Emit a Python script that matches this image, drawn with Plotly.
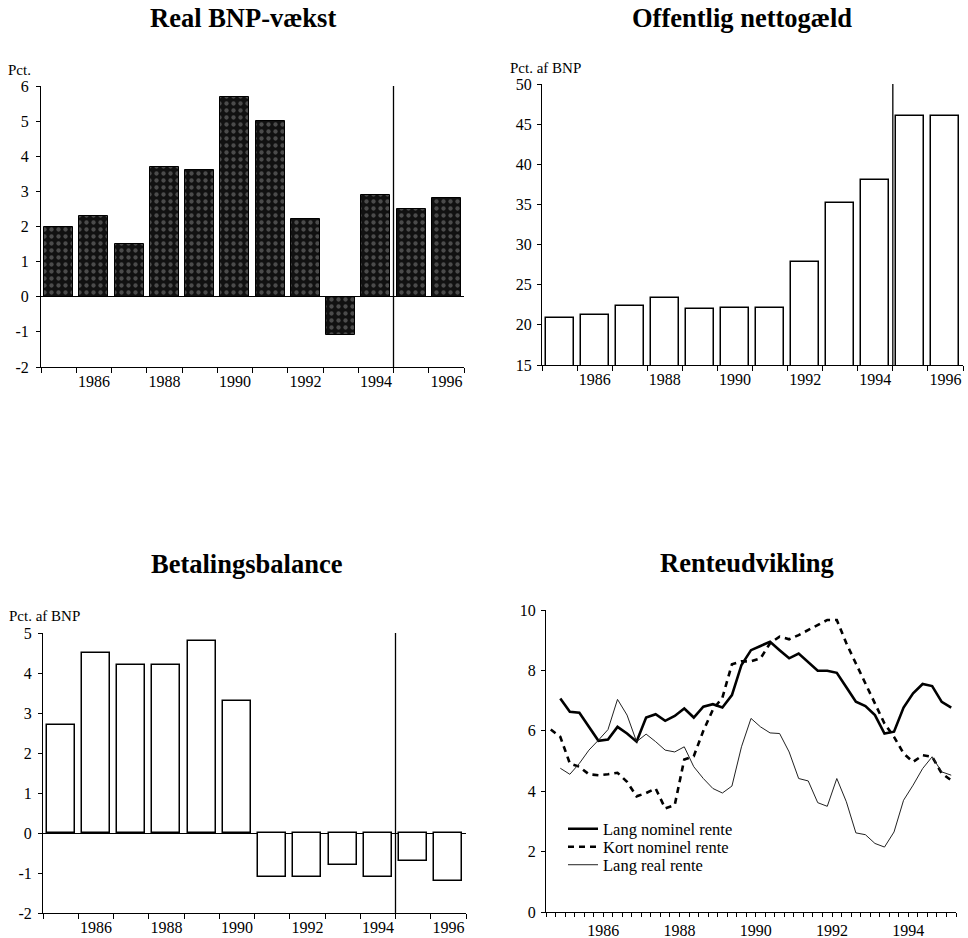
import plotly.graph_objects as go

# ---------------- data ----------------
years = [1985, 1986, 1987, 1988, 1989, 1990, 1991, 1992, 1993, 1994, 1995, 1996]
bnp_growth = [2.0, 2.3, 1.5, 3.7, 3.6, 5.7, 5.0, 2.2, -1.1, 2.9, 2.5, 2.8]
net_debt = [20.8, 21.2, 22.4, 23.4, 22.0, 22.1, 22.1, 27.8, 35.2, 38.0, 46.0, 46.0]
current_account = [2.7, 4.5, 4.2, 4.2, 4.8, 3.3, -1.1, -1.1, -0.8, -1.1, -0.7, -1.2]
bar_label_years = [1986, 1988, 1990, 1992, 1994, 1996]
forecast_split = 1994.5

kort_start = (1985, 1)
kort_rente = [6.04, 5.80, 4.92, 4.81, 4.56, 4.53, 4.56, 4.61, 4.31, 3.83, 3.94, 4.09,
              3.43, 3.54, 5.05, 5.16, 6.0, 6.7, 7.1, 8.2, 8.3, 8.3, 8.4, 8.9,
              9.12, 9.03, 9.17, 9.34, 9.50, 9.67, 9.67, 8.90, 8.23, 7.57, 6.91, 6.24,
              5.80, 5.25, 4.97, 5.19, 5.14, 4.59, 4.36]
lang_start = (1985, 2)
lang_rente = [7.07, 6.63, 6.60, 6.13, 5.67, 5.71, 6.13, 5.91, 5.64, 6.44, 6.55, 6.33,
              6.49, 6.74, 6.44, 6.80, 6.88, 6.77, 7.18, 8.18, 8.67, 8.81, 8.95, 8.67,
              8.40, 8.56, 8.29, 7.99, 7.99, 7.92, 7.44, 6.96, 6.82, 6.52, 5.91, 5.97,
              6.77, 7.24, 7.55, 7.48, 6.96, 6.77]
real_start = (1985, 2)
real_rente = [4.76, 4.56, 4.92, 5.36, 5.69, 6.04, 7.04, 6.52, 5.64, 5.89, 5.64, 5.36,
              5.30, 5.47, 4.81, 4.42, 4.09, 3.94, 4.17, 5.47, 6.41, 6.13, 5.93, 5.91,
              5.30, 4.42, 4.34, 3.62, 3.50, 4.42, 3.65, 2.62, 2.56, 2.27, 2.15, 2.65,
              3.70, 4.20, 4.75, 5.14, 4.64, 4.53]
rate_label_years = [1986, 1988, 1990, 1992, 1994]


def quarter_positions(start, n):
    y, q = start
    out = []
    for _ in range(n):
        out.append(y + (q - 0.5) / 4.0)
        q += 1
        if q > 4:
            q = 1
            y += 1
    return out


W, H = 968, 938
FONT = "Liberation Serif"


def px_x(a, b):
    return [a / W, b / W]


def px_y(top, bottom):
    return [1 - bottom / H, 1 - top / H]


fig = go.Figure()

fig.add_trace(go.Bar(
    x=years, y=bnp_growth, width=0.82, xaxis="x", yaxis="y",
    marker=dict(color="#111111", line=dict(color="black", width=1),
                pattern=dict(shape=".", fgcolor="#858585", bgcolor="#111111",
                             size=7, solidity=0.3)),
    showlegend=False))

fig.add_trace(go.Bar(
    x=years, y=net_debt, width=0.8, xaxis="x2", yaxis="y2",
    marker=dict(color="white", line=dict(color="black", width=1.5)),
    showlegend=False))

fig.add_trace(go.Bar(
    x=years, y=current_account, width=0.8, xaxis="x3", yaxis="y3",
    marker=dict(color="white", line=dict(color="black", width=1.5)),
    showlegend=False))

fig.add_trace(go.Scatter(
    x=quarter_positions(lang_start, len(lang_rente)), y=lang_rente,
    mode="lines", name="Lang nominel rente", xaxis="x4", yaxis="y4",
    legend="legend", line=dict(color="black", width=2.6)))
fig.add_trace(go.Scatter(
    x=quarter_positions(kort_start, len(kort_rente)), y=kort_rente,
    mode="lines", name="Kort nominel rente", xaxis="x4", yaxis="y4",
    legend="legend2", line=dict(color="black", width=2.6, dash="6px,5px")))
fig.add_trace(go.Scatter(
    x=quarter_positions(real_start, len(real_rente)), y=real_rente,
    mode="lines", name="Lang real rente", xaxis="x4", yaxis="y4",
    legend="legend3", line=dict(color="#222222", width=1)))

tickfont = dict(family=FONT, size=16, color="black")


def num_text(v):
    return ("-%g" % -v) if v < 0 else ("%g" % v)


def bar_xaxis(domain, anchor):
    return dict(domain=domain, anchor=anchor, range=[1984.5, 1996.5],
                tickmode="array", tickvals=bar_label_years,
                ticktext=[str(v) for v in bar_label_years],
                ticks="outside", ticklen=0, tickfont=tickfont, automargin=False,
                showline=True, linecolor="black", linewidth=1,
                showgrid=False, zeroline=False, fixedrange=True,
                minor=dict(tick0=1984.5, dtick=1, ticks="outside", ticklen=5,
                           tickcolor="black", tickwidth=1, showgrid=False))


def yaxis(domain, anchor, lo, hi, step, zeroline, standoff):
    vals = list(range(lo, hi + 1, step))
    return dict(domain=domain, anchor=anchor, range=[lo, hi], automargin=False,
                tickmode="array", tickvals=vals, ticktext=[num_text(v) for v in vals],
                ticks="outside", ticklen=4, tickcolor="black",
                ticklabelstandoff=standoff,
                tickfont=tickfont, showline=True, linecolor="black",
                linewidth=1, showgrid=False, zeroline=zeroline,
                zerolinecolor="black", zerolinewidth=1.2, fixedrange=True)


legend_common = dict(xanchor="left", yanchor="middle", bgcolor="rgba(0,0,0,0)",
                     borderwidth=0, font=dict(family=FONT, size=16.5, color="black"),
                     itemwidth=30)

fig.update_layout(
    width=W, height=H, autosize=False,
    margin=dict(l=0, r=0, t=0, b=0, pad=0, autoexpand=False),
    paper_bgcolor="white", plot_bgcolor="white",
    font=dict(family=FONT, color="black"),
    bargap=0,
    xaxis=bar_xaxis(px_x(41, 464), "y"),
    yaxis=yaxis(px_y(86, 367), "x", -2, 6, 1, True, 4),
    xaxis2=bar_xaxis(px_x(542, 963), "y2"),
    yaxis2=yaxis(px_y(84, 365), "x2", 15, 50, 5, False, 2),
    xaxis3=bar_xaxis(px_x(43, 466), "y3"),
    yaxis3=yaxis(px_y(633, 913), "x3", -2, 5, 1, True, 3),
    xaxis4=dict(domain=px_x(546, 956), anchor="y4", range=[1985, 1995.75],
                tickmode="array", tickvals=[y + 0.5 for y in rate_label_years],
                ticktext=[str(v) for v in rate_label_years], automargin=False,
                ticks="outside", ticklen=4, tickcolor="black", tickfont=tickfont,
                showline=True, linecolor="black", linewidth=1,
                showgrid=False, zeroline=False, fixedrange=True,
                minor=dict(tick0=1985, dtick=0.25, ticks="outside", ticklen=4,
                           tickcolor="black", tickwidth=1, showgrid=False)),
    yaxis4=yaxis(px_y(610, 912), "x4", 0, 10, 2, False, 2),
    legend=dict(x=563 / W, y=1 - 829 / H, **legend_common),
    legend2=dict(x=563 / W, y=1 - 847 / H, **legend_common),
    legend3=dict(x=563 / W, y=1 - 865 / H, **legend_common),
)

for xa, ya in [("x", "y"), ("x2", "y2"), ("x3", "y3")]:
    fig.add_shape(type="line", xref=xa, yref=ya + " domain",
                  x0=forecast_split, x1=forecast_split, y0=0, y1=1,
                  line=dict(color="black", width=1.3))

titles = [("Real BNP-vækst", 243, 18), ("Offentlig nettogæld", 742, 18),
          ("Betalingsbalance", 247, 564), ("Renteudvikling", 747, 563)]
for text, cx, cy in titles:
    fig.add_annotation(text="<b>%s</b>" % text, xref="paper", yref="paper",
                       x=cx / W, y=1 - cy / H, xanchor="center", yanchor="middle",
                       showarrow=False, font=dict(family=FONT, size=26.5, color="black"))

units = [("Pct.", 6, 70), ("Pct. af BNP", 508, 68), ("Pct. af BNP", 7, 616)]
for text, lx, cy in units:
    fig.add_annotation(text=text, xref="paper", yref="paper",
                       x=lx / W, y=1 - cy / H, xanchor="left", yanchor="middle",
                       showarrow=False, font=dict(family=FONT, size=15, color="black"))

fig.write_html("out.html", post_script="document.body.style.margin='0';",
               config={"displayModeBar": False})
